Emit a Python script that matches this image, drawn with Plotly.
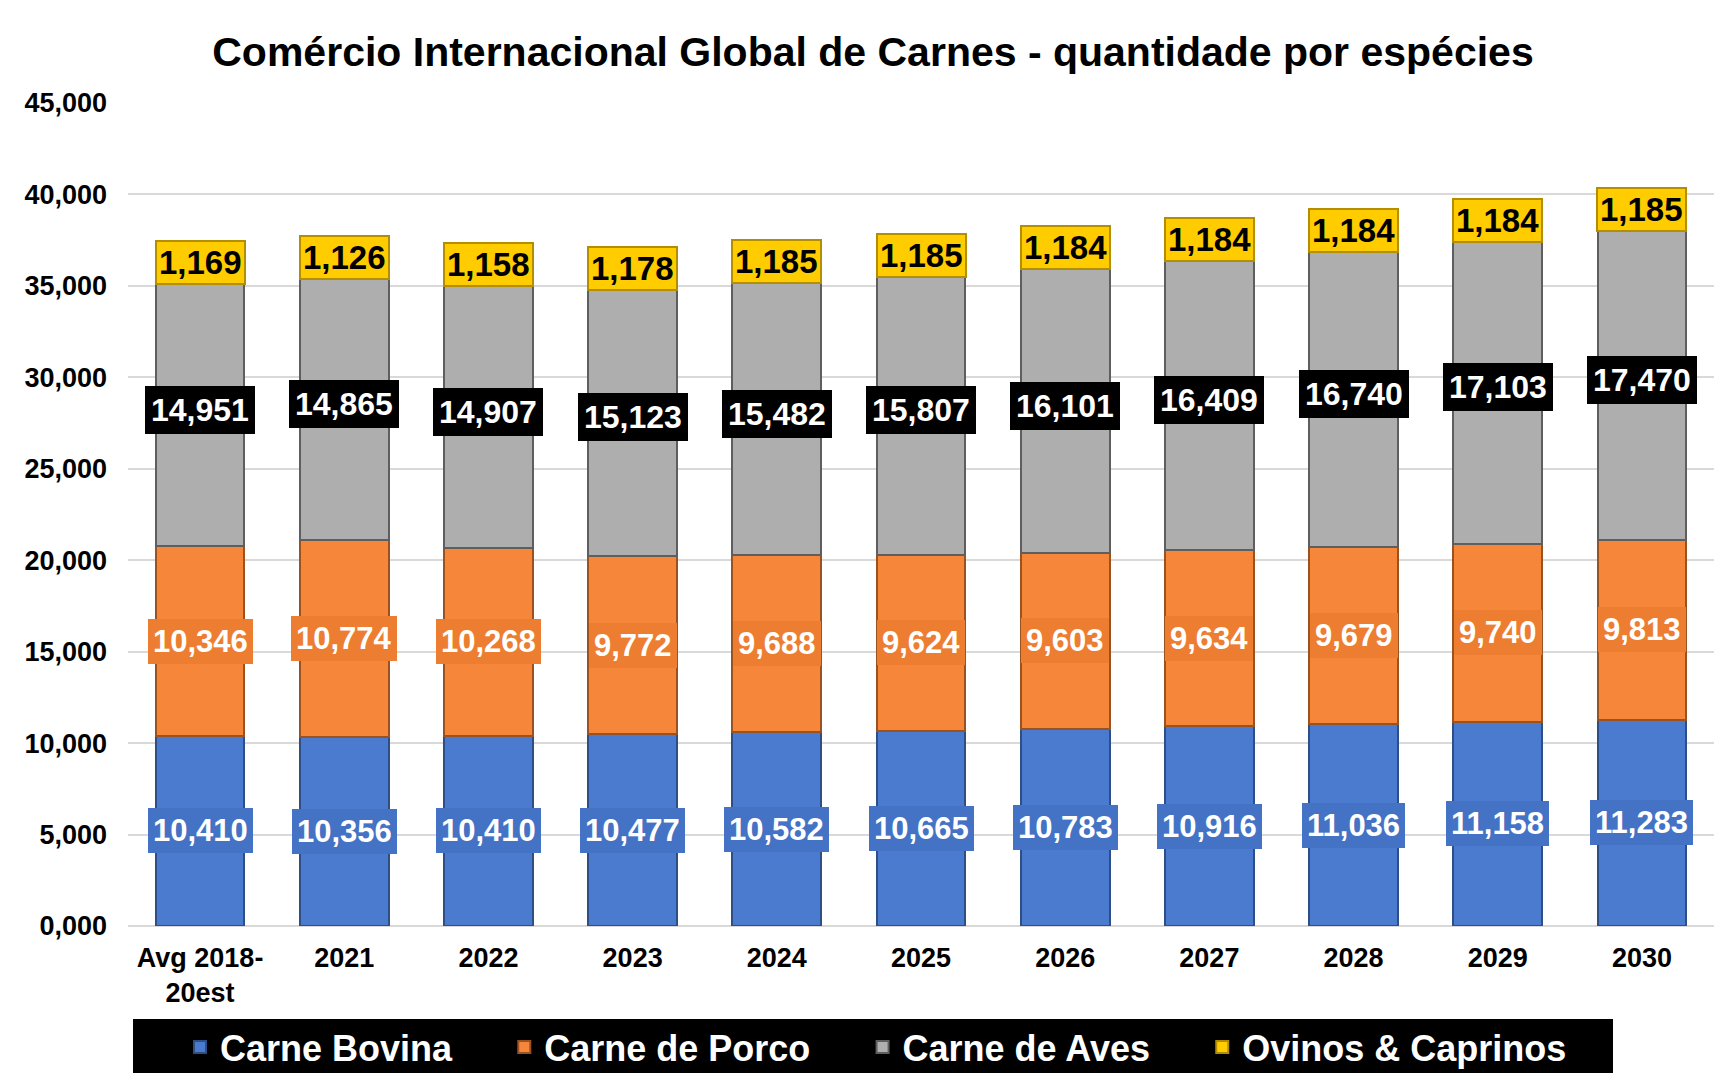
import plotly.graph_objects as go

categories = ["Avg 2018-<br>20est", "2021", "2022", "2023", "2024", "2025",
              "2026", "2027", "2028", "2029", "2030"]
bovina = [10410, 10356, 10410, 10477, 10582, 10665, 10783, 10916, 11036, 11158, 11283]
porco = [10346, 10774, 10268, 9772, 9688, 9624, 9603, 9634, 9679, 9740, 9813]
aves = [14951, 14865, 14907, 15123, 15482, 15807, 16101, 16409, 16740, 17103, 17470]
ovinos = [1169, 1126, 1158, 1178, 1185, 1185, 1184, 1184, 1184, 1184, 1185]
series_names = ["Carne Bovina", "Carne de Porco", "Carne de Aves", "Ovinos & Caprinos"]
y_ticks = [0, 5000, 10000, 15000, 20000, 25000, 30000, 35000, 40000, 45000]
y_tick_labels = ["0,000", "5,000", "10,000", "15,000", "20,000", "25,000",
                 "30,000", "35,000", "40,000", "45,000"]

FONT = "Liberation Sans, Arial, sans-serif"
series = [bovina, porco, aves, ovinos]
bar_colors = ["#4A7BCE", "#F6873A", "#AEAEAE", "#FFCC00"]
edge_colors = ["#2E4F86", "#9A5320", "#5E5E5E", "#B08C00"]
label_bg = ["#4472C4", "#ED7D31", "#000000", "#FFCC00"]
label_fg = ["white", "white", "white", "black"]
label_border = ["#4472C4", "#ED7D31", "#000000", "#B38F00"]
label_size = [31, 31, 32, 33]
label_pad = [5, 5, 6, 2]

PAD = "\u00a0" * 4 + "\u2009"

fig = go.Figure()
for si, (name, vals, col, edge) in enumerate(zip(series_names, series, bar_colors, edge_colors)):
    fig.add_trace(go.Bar(
        x=categories, y=vals, name=name + (PAD if si < 3 else ""),
        marker=dict(color=col, line=dict(color=edge, width=2)),
        width=0.615,
    ))

annotations = []
base = [0] * len(categories)
for si, vals in enumerate(series):
    for i, v in enumerate(vals):
        annotations.append(dict(
            x=i, y=base[i] + v / 2, xref="x", yref="y",
            text=f"{v:,}", showarrow=False,
            font=dict(family=FONT, size=label_size[si], color=label_fg[si], weight="bold"),
            bgcolor=label_bg[si], bordercolor=label_border[si],
            borderwidth=2 if si == 3 else 0, borderpad=label_pad[si],
        ))
        base[i] += v

# figure sits inside the page's 8px body margin
W, H = 1708, 1065
L, R, T, B = 120, 2, 95, 147
pw = W - L - R
ph = H - T - B


def px(xp):
    return (xp - L) / pw


def py(yp):
    return (H - B - yp) / ph


shapes = [
    dict(type="rect", xref="paper", yref="paper",
         x0=px(125), x1=px(1605), y0=py(1066), y1=py(1011),
         fillcolor="black", line=dict(width=0), layer="above"),
]

fig.update_layout(
    barmode="stack",
    width=W, height=H,
    margin=dict(l=L, r=R, t=T, b=B, autoexpand=False),
    paper_bgcolor="white", plot_bgcolor="white",
    title=dict(text="Comércio Internacional Global de Carnes - quantidade por espécies",
               x=865 / W, xanchor="center", y=1 - 44 / H, yanchor="middle",
               font=dict(family=FONT, size=41, color="black", weight="bold")),
    xaxis=dict(type="category", range=[-0.5, 10.5], showgrid=False, showline=False,
               ticks="",
               tickfont=dict(family=FONT, size=27, color="black", weight="bold"),
               ticklabelstandoff=13),
    yaxis=dict(range=[0, 45000], tickvals=y_ticks, ticktext=y_tick_labels,
               showgrid=True, gridcolor="#D9D9D9", gridwidth=2,
               zeroline=True, zerolinecolor="#D9D9D9", zerolinewidth=2,
               tickfont=dict(family=FONT, size=27, color="black", weight="bold"),
               ticklabelstandoff=20),
    legend=dict(orientation="h", x=px(172), xanchor="left",
                y=py(1039), yanchor="middle",
                bgcolor="rgba(0,0,0,0)", borderwidth=0,
                font=dict(family=FONT, size=36, color="white", weight="bold"),
                traceorder="normal", itemwidth=30),
    annotations=annotations,
    shapes=shapes,
    bargap=0.38,
)

fig.write_html("out.html")
